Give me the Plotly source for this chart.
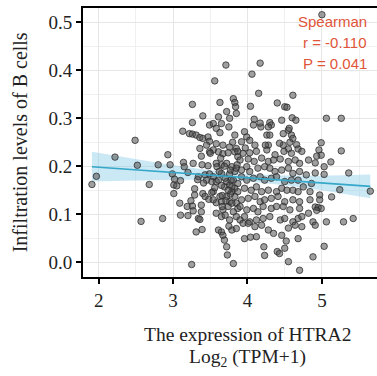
import plotly.graph_objects as go

# ---------------- data ----------------
# sparse points on the left
x_left = [1.91, 1.97, 2.22, 2.49, 2.52, 2.57, 2.68]
y_left = [0.162, 0.179, 0.219, 0.254, 0.202, 0.085, 0.162]

# upper part of the cloud (y > ~0.234)
x_top = [3.71, 3.56, 3.26, 3.63, 3.81, 3.83, 3.84, 3.72, 3.40, 3.61, 3.76, 3.26, 3.49, 3.54, 3.65,
         3.58, 3.75, 3.13, 3.22, 3.26, 3.31, 3.36, 3.40, 3.47, 3.63, 3.83, 3.80, 3.49, 3.45, 3.58,
         3.67, 3.76, 3.85, 3.36, 3.54,
         4.17, 4.06, 4.15, 4.04, 4.40, 4.50, 4.53, 4.61, 3.85, 4.09, 4.08, 4.18, 4.30, 4.32, 4.28,
         4.46, 4.60, 4.65, 3.96, 3.99, 3.92, 4.03, 4.10, 4.26, 4.30, 4.28, 4.26, 4.48, 4.55, 4.59,
         4.57, 4.48, 4.55, 4.66, 4.68,
         4.17, 4.24, 4.43, 4.56, 4.61, 3.97]
y_top = [0.411, 0.378, 0.329, 0.333, 0.341, 0.333, 0.324, 0.314, 0.305, 0.303, 0.300, 0.291, 0.286, 0.289, 0.289,
         0.279, 0.282, 0.273, 0.268, 0.267, 0.265, 0.260, 0.258, 0.261, 0.270, 0.265, 0.250, 0.252, 0.244, 0.247,
         0.244, 0.240, 0.237, 0.237, 0.234,
         0.415, 0.392, 0.352, 0.325, 0.332, 0.324, 0.323, 0.348, 0.310, 0.298, 0.286, 0.282, 0.291, 0.286, 0.282,
         0.296, 0.301, 0.296, 0.272, 0.261, 0.251, 0.254, 0.244, 0.265, 0.265, 0.244, 0.234, 0.268, 0.275, 0.265,
         0.250, 0.244, 0.236, 0.245, 0.236,
         0.290, 0.244, 0.248, 0.279, 0.258, 0.238]

# lower-left part of the cloud (x < ~3.9)
x_mid = [2.93, 3.38, 3.49, 3.61, 3.67, 3.74, 3.83, 3.87, 2.80, 2.96, 3.14, 3.15, 3.27, 3.39, 3.58,
         3.65, 3.72, 3.79, 3.86, 2.99, 3.20, 3.34, 3.43, 3.49, 3.54, 3.65, 3.76, 3.83, 3.02, 3.10,
         3.52, 3.58, 3.72, 3.81, 3.87, 3.01, 3.05, 3.69, 3.76, 3.83, 3.79, 3.87, 3.01, 3.29, 3.40,
         3.43, 3.48, 3.54, 3.63, 3.72, 3.83, 3.58, 3.65, 3.76, 3.85, 3.09, 3.19, 3.26, 3.27, 3.38,
         3.38, 3.67, 3.74, 3.81, 3.87, 3.10, 3.20, 3.34, 3.36, 3.58, 3.65, 3.76, 3.85, 2.86, 3.61,
         3.65, 3.31, 3.39, 3.79, 3.85, 3.67, 3.69, 3.72, 3.73, 3.25, 3.81,
         3.45, 3.52, 3.54, 3.59, 3.61, 3.65, 3.66, 3.66, 3.70, 3.64, 3.77, 3.78, 3.79, 3.77, 3.79,
         3.75, 3.62, 3.70, 3.74, 3.71, 3.69, 3.56, 3.50, 3.47, 3.41, 3.33, 3.29, 3.24]
y_mid = [0.224, 0.221, 0.230, 0.230, 0.226, 0.228, 0.230, 0.220, 0.203, 0.203, 0.208, 0.199, 0.206, 0.203, 0.206,
         0.203, 0.206, 0.199, 0.203, 0.184, 0.187, 0.178, 0.182, 0.184, 0.178, 0.185, 0.184, 0.189, 0.173, 0.170,
         0.168, 0.168, 0.168, 0.171, 0.164, 0.161, 0.159, 0.157, 0.161, 0.154, 0.147, 0.147, 0.143, 0.140, 0.143,
         0.137, 0.131, 0.147, 0.137, 0.137, 0.137, 0.124, 0.126, 0.126, 0.123, 0.123, 0.116, 0.117, 0.107, 0.119,
         0.105, 0.109, 0.116, 0.105, 0.112, 0.098, 0.097, 0.091, 0.089, 0.102, 0.095, 0.088, 0.095, 0.091, 0.067,
         0.063, 0.063, 0.068, 0.067, 0.070, 0.056, 0.046, 0.032, 0.015, -0.005, -0.003,
         0.171, 0.145, 0.130, 0.199, 0.171, 0.160, 0.139, 0.116, 0.098, 0.217, 0.192, 0.171, 0.157, 0.142, 0.123,
         0.075, 0.189, 0.175, 0.150, 0.128, 0.200, 0.155, 0.227, 0.201, 0.165, 0.172, 0.153, 0.128]

# lower-right part of the cloud (3.85 < x < 4.9)
x_core = [3.87, 3.94, 4.03, 4.12, 4.37, 4.49, 4.59, 4.73,
          3.90, 4.01, 4.09, 4.19, 4.28, 4.35, 4.44, 4.55, 4.64, 4.70, 4.82,
          3.85, 3.92, 3.99, 4.03, 4.14, 4.23, 4.30, 4.37, 4.46, 4.55, 4.61, 4.70, 4.79,
          3.92, 3.99, 4.08, 4.17, 4.23, 4.32, 4.39, 4.50, 4.59, 4.68, 4.86,
          3.96, 4.05, 4.12, 4.19, 4.28, 4.39, 4.46, 4.53, 4.61, 4.68, 4.75, 4.84,
          3.92, 4.01, 4.10, 4.17, 4.23, 4.32, 4.41, 4.50, 4.61, 4.70, 4.84,
          3.90, 3.99, 4.08, 4.14, 4.21, 4.32, 4.39, 4.48, 4.57, 4.70, 4.82,
          3.90, 3.96, 4.03, 4.12, 4.21, 4.30, 4.44, 4.50, 4.61, 4.68, 4.73, 4.88,
          3.94, 4.01, 4.10, 4.19, 4.28, 4.35, 4.55, 4.64, 4.73,
          3.96, 4.04, 4.12, 4.46, 4.52, 4.68,
          4.22, 4.23, 4.40, 4.43, 4.50,
          4.55, 4.70, 4.88]
y_core = [0.231, 0.227, 0.228, 0.231, 0.224, 0.231, 0.227, 0.231,
          0.213, 0.215, 0.210, 0.217, 0.210, 0.213, 0.215, 0.210, 0.213, 0.206, 0.213,
          0.196, 0.192, 0.199, 0.189, 0.196, 0.199, 0.196, 0.189, 0.192, 0.196, 0.185, 0.189, 0.182,
          0.178, 0.171, 0.175, 0.178, 0.171, 0.175, 0.178, 0.168, 0.171, 0.171, 0.164,
          0.154, 0.150, 0.157, 0.147, 0.150, 0.147, 0.154, 0.150, 0.150, 0.147, 0.157, 0.147,
          0.130, 0.133, 0.137, 0.126, 0.130, 0.133, 0.137, 0.126, 0.130, 0.126, 0.130,
          0.116, 0.109, 0.112, 0.105, 0.116, 0.112, 0.116, 0.116, 0.109, 0.112, 0.102,
          0.088, 0.095, 0.084, 0.088, 0.091, 0.095, 0.088, 0.091, 0.084, 0.091, 0.095, 0.084,
          0.081, 0.081, 0.074, 0.077, 0.067, 0.060, 0.071, 0.077, 0.074,
          0.049, 0.052, 0.053, 0.056, 0.044, 0.049,
          0.032, 0.014, 0.022, 0.018, 0.029,
          0.001, -0.017, 0.011]

# right-hand sparse points
x_right = [5.06, 5.26, 4.99, 4.96, 5.26, 4.99, 4.93, 5.12, 4.91, 5.03, 5.03, 4.91, 5.36, 5.65,
           5.24, 4.97, 5.13, 4.97, 4.91, 4.95, 4.99, 4.93, 5.06, 5.29, 5.42, 4.91, 5.03, 5.00]
y_right = [0.300, 0.300, 0.249, 0.234, 0.232, 0.223, 0.221, 0.209, 0.207, 0.199, 0.183, 0.186, 0.186, 0.148,
           0.151, 0.140, 0.136, 0.130, 0.115, 0.114, 0.112, 0.108, 0.084, 0.084, 0.091, 0.077, 0.033, 0.516]

# regression line and its confidence band
fit_x = [1.91, 2.5, 3.0, 3.5, 4.0, 4.5, 5.0, 5.65]
fit_y = [0.199, 0.1925, 0.187, 0.1816, 0.176, 0.1706, 0.1651, 0.158]
fit_lo = [0.168, 0.1705, 0.172, 0.1716, 0.168, 0.1606, 0.1501, 0.133]
fit_hi = [0.230, 0.2145, 0.202, 0.1916, 0.184, 0.1806, 0.1801, 0.183]

x_ticks = [2, 3, 4, 5]
y_ticks = [0.0, 0.1, 0.2, 0.3, 0.4, 0.5]
y_tick_text = ["0.0", "0.1", "0.2", "0.3", "0.4", "0.5"]

stats_lines = ["Spearman", "r = -0.110", "P = 0.041"]

# ---------------- figure ----------------
xs = x_left + x_top + x_mid + x_core + x_right
ys = y_left + y_top + y_mid + y_core + y_right

fig = go.Figure()

fig.add_trace(go.Scatter(
    x=fit_x + fit_x[::-1], y=fit_hi + fit_lo[::-1],
    fill="toself", fillcolor="rgba(140,205,232,0.45)",
    line=dict(width=0), mode="lines", hoverinfo="skip", showlegend=False))

fig.add_trace(go.Scatter(
    x=xs, y=ys, mode="markers",
    marker=dict(size=6.5, color="rgba(80,80,80,0.55)",
                line=dict(color="rgba(40,40,40,0.75)", width=1)),
    showlegend=False))

fig.add_trace(go.Scatter(
    x=fit_x, y=fit_y, mode="lines",
    line=dict(color="#35A7C9", width=1.6), showlegend=False))

serif = "Liberation Serif, Times New Roman, serif"

fig.update_layout(
    width=377, height=376,
    margin=dict(l=83, r=0, t=8, b=99),
    paper_bgcolor="white", plot_bgcolor="white",
    font=dict(family=serif, color="#222222"),
    showlegend=False,
)

fig.update_xaxes(
    range=[1.79, 5.74], tickvals=x_ticks, ticktext=[str(t) for t in x_ticks],
    showgrid=True, gridcolor="#E6E6E6", gridwidth=1.3,
    minor=dict(dtick=0.5, tick0=0, showgrid=True, gridcolor="#F0F0F0", gridwidth=1),
    showline=True, linecolor="black", linewidth=2, mirror=True,
    ticks="outside", ticklen=5, tickwidth=1.5, tickcolor="black",
    tickfont=dict(family=serif, size=19, color="#222222"),
    zeroline=False,
)
fig.update_yaxes(
    range=[-0.031, 0.530], tickvals=y_ticks, ticktext=y_tick_text,
    showgrid=True, gridcolor="#E6E6E6", gridwidth=1.3,
    minor=dict(dtick=0.05, tick0=0, showgrid=True, gridcolor="#F0F0F0", gridwidth=1),
    showline=True, linecolor="black", linewidth=2, mirror=False,
    ticks="outside", ticklen=5, tickwidth=1.5, tickcolor="black",
    tickfont=dict(family=serif, size=19, color="#222222"),
    zeroline=False,
)

# axis titles
fig.add_annotation(text="Infiltration levels of B cells", textangle=-90,
                   xref="paper", yref="paper", x=-0.215, y=0.5,
                   xanchor="center", yanchor="middle", showarrow=False,
                   font=dict(family=serif, size=20, color="#222222"))
fig.add_annotation(text="The expression of HTRA2",
                   xref="x", yref="paper", x=4.0, y=-0.212,
                   xanchor="center", yanchor="middle", showarrow=False, borderpad=0,
                   font=dict(family=serif, size=19.5, color="#222222"))
fig.add_annotation(text="Log<sub>2</sub> (TPM+1)",
                   xref="x", yref="paper", x=4.0, y=-0.300,
                   xanchor="center", yanchor="middle", showarrow=False, borderpad=0,
                   font=dict(family=serif, size=19.5, color="#222222"))

# statistics text
for i, line in enumerate(stats_lines):
    fig.add_annotation(text=line, xref="paper", yref="paper",
                       x=0.973, y=0.95 - i * 0.078,
                       xanchor="right", yanchor="middle", showarrow=False,
                       font=dict(family="Liberation Sans, Arial, sans-serif", size=15, color="#E0553A"))

fig.write_html("out.html")
